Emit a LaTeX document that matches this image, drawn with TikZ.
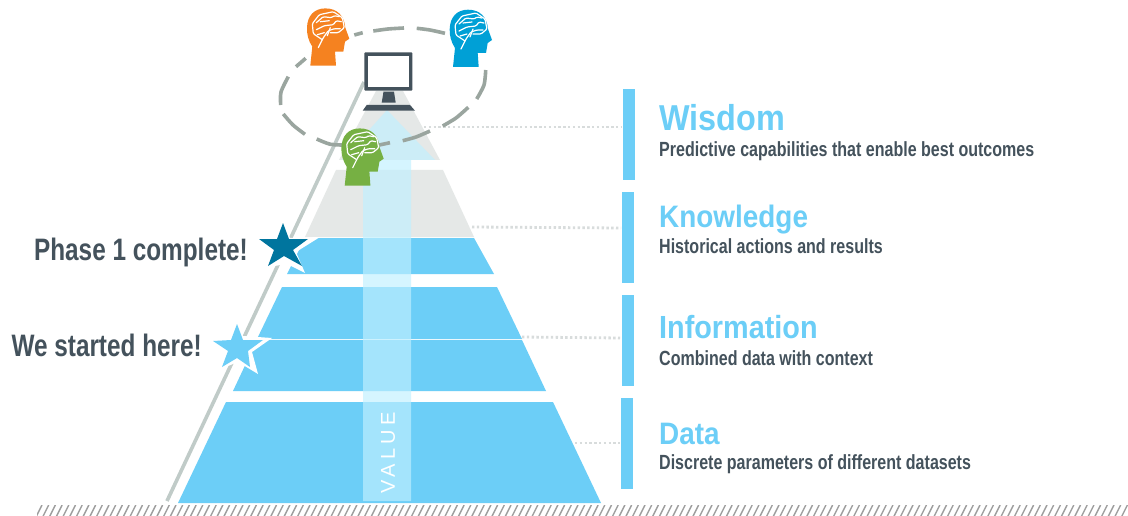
\documentclass[tikz,border=0pt]{standalone}
\usepackage{fontspec}
\usetikzlibrary{calc}
\setmainfont{Liberation Sans}
\newfontfamily\subfont[FakeStretch=0.782,UprightFont={* Bold}]{Liberation Sans}
\newfontfamily\callfont[FakeStretch=0.785,UprightFont={* Bold}]{Liberation Sans}
\newfontfamily\headfont[FakeStretch=0.90,UprightFont={* Bold}]{Liberation Sans}
\definecolor{sky}{HTML}{6CCEF7}
\definecolor{paleg}{HTML}{E5E8E7}
\definecolor{slate}{HTML}{44525C}
\definecolor{arrowc}{HTML}{C0F0FF}
\definecolor{ringc}{HTML}{9AA59F}
\definecolor{railc}{HTML}{C0CBC8}
\definecolor{dotc}{HTML}{D8DCDC}
\definecolor{deepstar}{HTML}{00759E}
\definecolor{headorange}{HTML}{F58220}
\definecolor{headblue}{HTML}{00A0D6}
\definecolor{headgreen}{HTML}{76B043}
\tikzset{
 tier/.style={fill=sky,draw=none},
 graytier/.style={fill=paleg,draw=none},
 levelbar/.style={fill=sky,draw=none},
 leader/.style={draw=dotc,line width=2.8pt,dash pattern=on 2.4pt off 2.4pt},
 ringseg/.style={draw=ringc,line width=3.6pt},
 title/.style={text=sky,anchor=base west,inner sep=0pt,font=\headfont\fontsize{31}{31}\selectfont},
 subt/.style={text=slate,anchor=base west,inner sep=0pt,font=\subfont\fontsize{20.5}{21}\selectfont},
 call/.style={text=slate,anchor=base east,inner sep=0pt,font=\callfont\fontsize{31}{32}\selectfont},
 brainline/.style={draw=white,line width=1.2pt,line cap=round,line join=round,rounded corners=1.2pt},
 pics/headicon/.style={code={
  \fill[#1] (0,0) -- (2,-19) .. controls (-2,-25) and (-3.6,-32) .. (-3.3,-38) .. controls (-3,-50) and (4,-57.3) .. (15,-57.3)
   .. controls (27,-57.3) and (34,-50) .. (35,-38) -- (39,-27) -- (34.7,-24) -- (33,-14) -- (24.7,-14) -- (25.7,0) -- cycle;
  \draw[brainline] (12,-26) -- (3,-32) -- (2,-42) -- (9,-51) -- (23,-54) -- (32,-48) -- (34,-38) -- (28,-33) -- (20,-33);
  \draw[brainline] (8,-18) -- (13,-28) -- (18,-35) -- (24,-37) -- (30,-37);
  \draw[brainline] (6,-36) -- (14,-40) -- (23,-41) -- (26,-45) -- (31,-44);
  \draw[brainline] (6,-43) -- (13,-49) -- (21,-48) -- (24,-50) -- (29,-49);
  \draw[brainline] (10,-44) -- (19,-45);
  \draw[brainline] (7,-31) -- (14,-33);
  \draw[brainline] (20,-38) -- (17,-30);
 }},
}
\begin{document}
\begin{tikzpicture}[x=1pt,y=-1pt]
\useasboundingbox (0,0) rectangle (1128,516);
\fill[white] (0,0) rectangle (1128,516);
% hatching
\begin{scope}
\clip (37,505) rectangle (1128,516);
\foreach \i in {0,...,163} {
  \draw[black!38,line width=1.4pt] ({36+\i*6.7},517) -- ({42+\i*6.7},505);
}
\end{scope}
% rail
\coordinate (railA) at (167,501);
\coordinate (railB) at (364,82);
\draw[railc,line width=3.6pt] (railA) -- (railB);
% tiers
\fill[tier] (178,503) -- (601,503) -- (553,402) -- (226,402) -- cycle;
\fill[tier] (233,391) -- (546,391) -- (522,340) -- (257,340) -- cycle;
\fill[tier] (257,339) -- (522,339) -- (497,287) -- (282,287) -- cycle;
\fill[tier] (287,274) -- (494,274) -- (474,238) -- (305,238) -- cycle;
\fill[graytier] (305,237) -- (474,237) -- (443,170) -- (336,170) -- cycle;
\fill[graytier] (339,160) -- (440,160) -- (403,91) -- (376,91) -- cycle;
% leaders
\coordinate (w0) at (424,127); \coordinate (w1) at (621,127);
\coordinate (k0) at (472,227); \coordinate (k1) at (621,228);
\coordinate (i0) at (522,337); \coordinate (i1) at (620,338);
\coordinate (d0) at (575,443); \coordinate (d1) at (620,443);
\draw[leader] (w0) -- (w1);
\draw[leader] (k0) -- (k1);
\draw[leader] (i0) -- (i1);
\draw[leader] (d0) -- (d1);
% value arrow
\fill[arrowc,fill opacity=0.667] (363,501) -- (411,501) -- (411,160) -- (435,160) -- (387,110) -- (342,160) -- (363,160) -- cycle;
\node[rotate=90,text=white,inner sep=0pt,font=\fontsize{20}{20}\selectfont] (val) at (388,453) {\addfontfeature{LetterSpace=22}VALUE};
% ring
\draw[ringseg] plot[smooth] coordinates {(354.3,35) (362.7,32.7)};
\draw[ringseg] plot[smooth] coordinates {(373.3,31) (388,29) (404,28)};
\draw[ringseg] plot[smooth] coordinates {(416.7,28.3) (430,30) (445,33.3)};
\draw[ringseg] plot[smooth] coordinates {(485.7,70) (484,85) (476.7,99)};
\draw[ringseg] plot[smooth] coordinates {(468.3,107.3) (456,118) (442.7,126)};
\draw[ringseg] plot[smooth] coordinates {(430,131) (416,137) (402.7,140.7)};
\draw[ringseg] plot[smooth] coordinates {(390,142.7) (379.3,145)};
\draw[ringseg] plot[smooth] coordinates {(343,145) (330,144.2) (316.7,139)};
\draw[ringseg] plot[smooth] coordinates {(305,134.3) (293,125) (283.3,114)};
\draw[ringseg] plot[smooth] coordinates {(280.7,105) (281,92) (288.3,76.7)};
\draw[ringseg] plot[smooth] coordinates {(296,66.7) (305.7,58.3)};
% monitor
\fill[slate,rounded corners=1pt] (364.3,52.3) rectangle (412.3,90.7);
\fill[white] (367.5,56) rectangle (409,87);
\fill[slate] (383.5,91.7) -- (394,91.7) -- (395.7,102.7) -- (381.7,102.7) -- cycle;
\fill[slate] (366.7,105) -- (410,105) -- (415,110.7) -- (362.7,110.7) -- cycle;
% heads
\pic at (310.3,65.7) {headicon={headorange}};
\pic at (453,67) {headicon={headblue}};
\pic at (344.7,185.7) {headicon={headgreen}};
% stars
\fill[white] (283,220) -- (290,238) -- (320,237) -- (296,252) -- (305,273) -- (287,264) -- (262,268) -- (258,239) -- cycle;
\fill[deepstar] (283,223) -- (289,239) -- (308,239) -- (293,250) -- (302,266) -- (284,256) -- (268,266) -- (274,250) -- (259,239) -- (277,239) -- cycle;
\fill[white] (237,321) -- (243,336) -- (272,338) -- (252,352) -- (258,374) -- (238,362) -- (218,370) -- (212,341) -- cycle;
\fill[sky] (237,324) -- (243,340) -- (263,340) -- (248,351) -- (250,367) -- (237,358) -- (222,367) -- (228,351) -- (213,341) -- (231,340) -- cycle;
% bars
\fill[levelbar] (623,89) rectangle (635,180);
\fill[levelbar] (622,192) rectangle (634,283);
\fill[levelbar] (622,295) rectangle (634,386);
\fill[levelbar] (621,398) rectangle (633,489);
% texts
\node[title,font=\headfont\fontsize{36}{36}\selectfont] (t1) at (659,131) {Wisdom};
\node[subt] (s1) at (659,157) {Predictive capabilities that enable best outcomes};
\node[title] (t2) at (659,228) {Knowledge};
\node[subt] (s2) at (659,253) {Historical actions and results};
\node[title,font=\headfont\fontsize{32}{32}\selectfont] (t3) at (659,338) {Information};
\node[subt] (s3) at (659,365) {Combined data with context};
\node[title] (t4) at (659,444) {Data};
\node[subt] (s4) at (659,469) {Discrete parameters of different datasets};
\node[call] (c1) at (248,260) {Phase 1 complete!};
\node[call] (c2) at (202,356) {We started here!};
\end{tikzpicture}
\end{document}
